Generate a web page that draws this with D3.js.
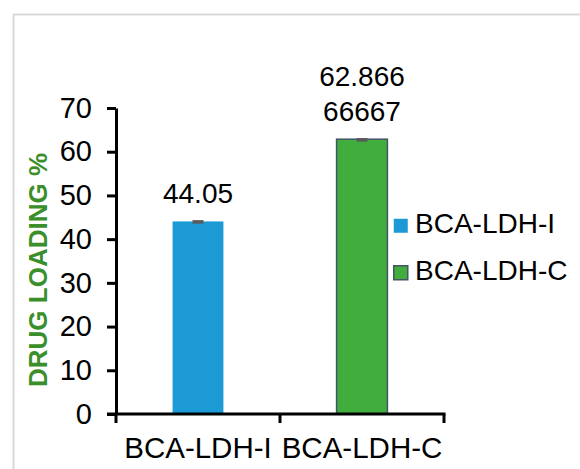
<!DOCTYPE html>
<html>
<head>
<meta charset="utf-8">
<script src="https://cdn.jsdelivr.net/npm/d3@7"></script>
<style>
  html, body { margin: 0; padding: 0; background: #fff; }
  svg { display: block; font-family: "Liberation Sans", Arial, sans-serif; }
</style>
</head>
<body>
<svg id="chart" width="580" height="469"></svg>
<script>
// Drug loading of the two formulations
const categories = ["BCA-LDH-I", "BCA-LDH-C"];
const values = [44.05, 62.86666667];
const errors = [0.3, 0.25];
const valueLabels = [["44.05"], ["62.866", "66667"]];
const yTicks = [0, 10, 20, 30, 40, 50, 60, 70];
const colors = ["#1b9ad6", "#41ad3c"];
const strokes = ["none", "#44546a"];
const yTitle = "DRUG LOADING %";

const svg = d3.select("#chart");

// outer frame
svg.append("rect")
  .attr("x", 13.5).attr("y", 14.5)
  .attr("width", 600).attr("height", 500)
  .attr("fill", "none").attr("stroke", "#d9d9d9").attr("stroke-width", 2);

const plot = { left: 116, right: 444, top: 108, bottom: 414 };

const x = d3.scaleBand().domain(categories).range([plot.left, plot.right]);
const y = d3.scaleLinear().domain([0, 70]).range([plot.bottom, plot.top]);
const barW = x.bandwidth() * 0.31;

// bars
svg.selectAll("rect.bar").data(values).join("rect")
  .attr("class", "bar")
  .attr("x", (d, i) => x(categories[i]) + x.bandwidth() / 2 - barW / 2)
  .attr("y", d => y(d))
  .attr("width", barW)
  .attr("height", d => y(0) - y(d))
  .attr("fill", (d, i) => colors[i])
  .attr("stroke", (d, i) => strokes[i])
  .attr("stroke-width", 1.5);

// error bar caps
values.forEach((v, i) => {
  const cx = x(categories[i]) + x.bandwidth() / 2;
  svg.append("rect")
    .attr("x", cx - 5.5).attr("width", 11)
    .attr("y", y(v + errors[i])).attr("height", Math.max(3.5, y(v - errors[i]) - y(v + errors[i])))
    .attr("fill", "#595959");
});

// value labels
values.forEach((v, i) => {
  const cx = x(categories[i]) + x.bandwidth() / 2;
  const lines = valueLabels[i];
  lines.forEach((t, j) => {
    svg.append("text")
      .attr("x", cx)
      .attr("y", y(v) - 18 - (lines.length - 1 - j) * 35)
      .attr("text-anchor", "middle")
      .attr("font-size", 28)
      .attr("fill", "#000")
      .text(t);
  });
});

// y axis
const yAxis = d3.axisLeft(y).tickValues(yTicks).tickSize(9).tickPadding(15).tickSizeOuter(0);
const gy = svg.append("g").attr("transform", `translate(${plot.left},0)`).call(yAxis);
gy.select(".domain").attr("stroke", "#000").attr("stroke-width", 3);
gy.selectAll(".tick line").attr("stroke", "#000").attr("stroke-width", 3);
gy.selectAll(".tick text").attr("font-size", 29).attr("fill", "#000")
  .attr("font-family", "Liberation Sans, Arial, sans-serif");

// x axis with ticks at category boundaries
const xAxisG = svg.append("g").attr("transform", `translate(0,${plot.bottom})`);
xAxisG.append("line")
  .attr("x1", plot.left - 9).attr("x2", plot.right + 1.5)
  .attr("y1", 0).attr("y2", 0)
  .attr("stroke", "#000").attr("stroke-width", 3);
const bounds = categories.map(c => x(c)).concat([plot.right]);
xAxisG.selectAll("line.tk").data(bounds).join("line")
  .attr("class", "tk")
  .attr("x1", d => d).attr("x2", d => d)
  .attr("y1", 0).attr("y2", 9)
  .attr("stroke", "#000").attr("stroke-width", 3);
xAxisG.selectAll("text").data(categories).join("text")
  .attr("x", d => x(d) + x.bandwidth() / 2)
  .attr("y", 44)
  .attr("text-anchor", "middle")
  .attr("font-size", 29.5)
  .attr("fill", "#000")
  .text(d => d);

// y axis title
svg.append("text")
  .attr("transform", `translate(47,270) rotate(-90)`)
  .attr("text-anchor", "middle")
  .attr("font-size", 26)
  .attr("font-weight", "bold")
  .attr("fill", "#3a8f2a")
  .text(yTitle);

// legend
const legend = svg.append("g").attr("transform", "translate(393,218)");
categories.forEach((c, i) => {
  const g = legend.append("g").attr("transform", `translate(0,${i * 47})`);
  g.append("rect")
    .attr("x", 0.75).attr("y", 0.75).attr("width", 14).attr("height", 14)
    .attr("fill", colors[i])
    .attr("stroke", strokes[i]).attr("stroke-width", 1.5);
  g.append("text")
    .attr("x", 22).attr("y", 15)
    .attr("font-size", 28).attr("fill", "#000")
    .text(c);
});
</script>
</body>
</html>
